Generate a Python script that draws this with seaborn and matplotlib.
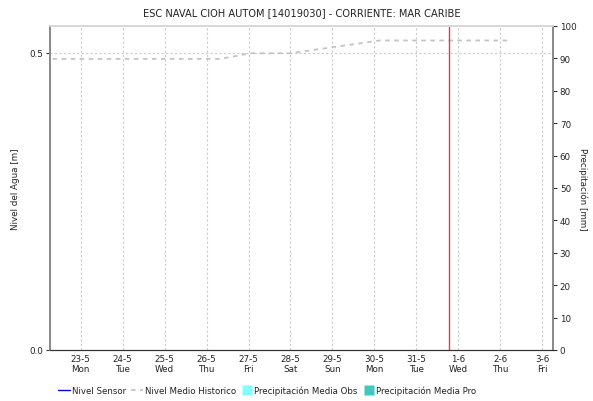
import pandas as pd
import matplotlib.pyplot as plt
from matplotlib.lines import Line2D
import seaborn as sns

# ---------------- THEME & COLORS ----------------
sns.set_theme(style="white")
plt.rcParams["font.family"] = ["DejaVu Sans"]

GRID = "#cccccc"
SPINE = "#8a8a8a"
HIST = "#c4c4c4"
RED = "#d94040"
SENSOR_BLUE = "#0000cc"
OBS_CYAN = "#80ffff"
PRO_TEAL = "#40c8c0"
TXT = "#222222"

# ---------------- DATA ----------------
hist_times = ["2022-05-22 08:00", "2022-05-26 08:00", "2022-05-27 01:00",
              "2022-05-28 00:00", "2022-05-30 03:00", "2022-06-02 06:00"]
hist_level = [0.490, 0.490, 0.4995, 0.4995, 0.521, 0.521]

sensor_times = []
sensor_level = []

day_ticks = pd.date_range("2022-05-23", "2022-06-03", freq="D")
day_labels = ["23-5\nMon", "24-5\nTue", "25-5\nWed", "26-5\nThu", "27-5\nFri",
              "28-5\nSat", "29-5\nSun", "30-5\nMon", "31-5\nTue", "1-6\nWed",
              "2-6\nThu", "3-6\nFri"]
now_time = "2022-05-31 18:30"

hist = pd.DataFrame({"time": pd.to_datetime(hist_times), "nivel": hist_level})

# ---------------- PLOT ----------------
fig = plt.figure(figsize=(5.93, 4.02), dpi=100)
ax = fig.add_axes([0.0843, 0.127, 0.848, 0.806])
ax2 = ax.twinx()

ax.plot(pd.to_datetime(sensor_times), sensor_level, color=SENSOR_BLUE, lw=1)
sns.lineplot(data=hist, x="time", y="nivel", ax=ax, color=HIST,
             linestyle=(0, (2.5, 2.5)), linewidth=1.3)
ax.axvline(pd.Timestamp(now_time), color=RED, lw=1)

ax.set_xlim(pd.Timestamp("2022-05-22 06:30"), pd.Timestamp("2022-06-03 06:00"))
ax.set_ylim(0, 0.5455)
ax2.set_ylim(0, 100)

ax.set_xticks(day_ticks)
ax.set_xticklabels(day_labels, fontsize=6.3, linespacing=1.1, color=TXT)
ax.set_yticks([0.0, 0.5])
ax.set_yticklabels(["0.0", "0.5"], fontsize=6.3, color=TXT)
ax2.set_yticks(range(0, 101, 10))
ax2.set_yticklabels([str(v) for v in range(0, 101, 10)], fontsize=6.3, color=TXT)

ax.tick_params(axis="x", length=0, pad=3)
ax.tick_params(axis="y", length=3, width=0.8, color="#333333", pad=2)
ax2.tick_params(axis="y", length=3, width=0.8, color="#333333", pad=2)

ax.grid(True, axis="both", color=GRID, linestyle=(0, (2, 2)), linewidth=0.8)
ax.set_axisbelow(True)

ax.set_xlabel("")
ax.set_ylabel("Nivel del Agua [m]", fontsize=6.3, color=TXT)
ax.yaxis.set_label_coords(-0.06, 0.5)
ax2.set_ylabel("Precipitación [mm]", fontsize=6.3, rotation=270, color=TXT,
               va="center")
ax2.yaxis.set_label_coords(1.06, 0.5)

for a in (ax, ax2):
    a.spines["top"].set_color("#d8d8d8")
    a.spines["left"].set_color(SPINE)
    a.spines["right"].set_color(SPINE)
    a.spines["bottom"].set_color("#333333")
    a.spines["bottom"].set_linestyle((0, (1, 1)))
    a.spines["bottom"].set_linewidth(0.8)

ax.set_title("ESC NAVAL CIOH AUTOM [14019030] - CORRIENTE: MAR CARIBE",
             fontsize=7.1, color=TXT, pad=8)

handles = [
    Line2D([], [], color=SENSOR_BLUE, lw=1),
    Line2D([], [], color=HIST, lw=1.3, linestyle=(0, (2.5, 2.5))),
    Line2D([], [], color="none", marker="s", markersize=6.5,
           markerfacecolor=OBS_CYAN, markeredgecolor="none"),
    Line2D([], [], color="none", marker="s", markersize=6.5,
           markerfacecolor=PRO_TEAL, markeredgecolor="none"),
]
labels = ["Nivel Sensor", "Nivel Medio Historico",
          "Precipitación Media Obs", "Precipitación Media Pro"]
fig.legend(handles, labels, loc="center", bbox_to_anchor=(0.451, 0.027),
           ncol=4, frameon=False, fontsize=6.2, handlelength=1.4,
           handletextpad=0.2, columnspacing=0.55, labelcolor=TXT)

plt.savefig("out.png", dpi=100)
